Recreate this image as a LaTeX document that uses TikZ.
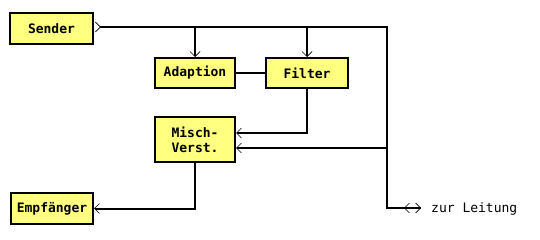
\documentclass[tikz,border=0pt]{standalone}
\usepackage{fontspec}
\setmonofont{DejaVu Sans Mono}
\usetikzlibrary{arrows.meta}
\definecolor{boxyellow}{HTML}{FFFF80}
\tikzset{
  blk/.style={draw=black, line width=2pt, fill=boxyellow, inner sep=0pt,
    font=\fontsize{13}{15}\selectfont\ttfamily\bfseries},
  wire/.style={line width=2pt},
  barb/.tip={Straight Barb[length=5pt,width=10pt,line width=0.7pt]},
  rbarb/.tip={Straight Barb[reversed,length=5pt,width=10pt,line width=0.7pt]},
}
\begin{document}
\begin{tikzpicture}[x=1pt,y=-1pt]
\useasboundingbox (0,0) rectangle (540,240);
\node[blk, minimum width=83pt, minimum height=31pt] (sender) at (51.5,28.5) {Sender};
\node[blk, minimum width=80pt, minimum height=30pt] (adapt) at (195,73) {Adaption};
\node[blk, minimum width=82pt, minimum height=30pt] (filter) at (307,73) {Filter};
\node[blk, minimum width=80pt, minimum height=45pt, align=left] (misch) at (195,139.5) {Misch-\\Verst.};
\node[blk, minimum width=82pt, minimum height=31pt] (empf) at (52,208.5) {Empfänger};
\coordinate (top) at (387,27);
\coordinate (mid) at (387,148);
\coordinate (bot) at (387,208);
\coordinate (la) at (404,208);
\coordinate (lb) at (421,208);
\node[anchor=west, font=\fontsize{13}{15}\selectfont\ttfamily, inner sep=0pt] (zur) at (431,209) {zur Leitung};
% main line from Sender
\draw[wire, {rbarb}-] ([xshift=1pt]sender.east |- top) -- (top) -- (bot) -- (lb);
\draw[wire, {barb}-{barb}] (la) -- (lb);
% branches to Adaption and Filter
\draw[wire, -{barb}] (adapt.north |- top) -- (adapt.north);
\draw[wire, -{barb}] (filter.north |- top) -- (filter.north);
% Adaption - Filter
\draw[wire] (adapt.east) -- (filter.west);
% Filter to Misch
\draw[wire, -{barb}] (filter.south) |- ([yshift=6.5pt]misch.east);
% Leitung to Misch
\draw[wire, -{barb}] (mid) -- (misch.east |- mid);
% Misch to Empfaenger
\draw[wire, -{barb}] (misch.south) |- (empf.east);
\end{tikzpicture}
\end{document}
